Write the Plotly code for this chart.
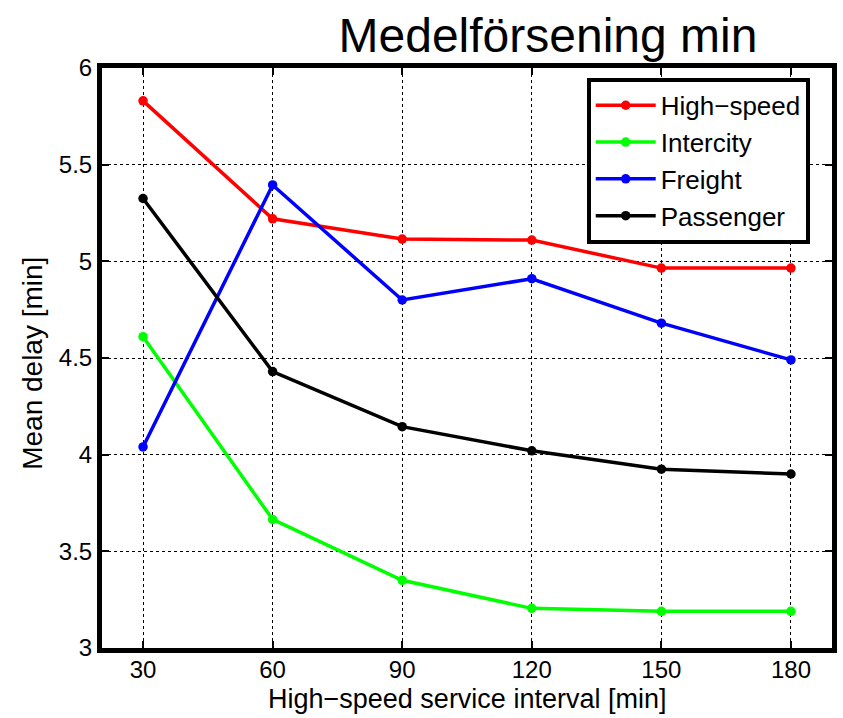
import plotly.graph_objects as go

intervals = [30, 60, 90, 120, 150, 180]
high_speed = [5.83, 5.22, 5.115, 5.11, 4.965, 4.965]
intercity = [4.61, 3.665, 3.35, 3.205, 3.19, 3.19]
freight = [4.04, 5.395, 4.80, 4.91, 4.68, 4.49]
passenger = [5.325, 4.43, 4.145, 4.02, 3.925, 3.90]

series = [
    ("High\u2212speed", high_speed, "#ff0000"),
    ("Intercity", intercity, "#00ff00"),
    ("Freight", freight, "#0000ff"),
    ("Passenger", passenger, "#000000"),
]

fig = go.Figure()
for name, vals, col in series:
    fig.add_trace(go.Scatter(
        x=intervals, y=vals, name=name, mode="lines+markers",
        line=dict(color=col, width=3.5),
        marker=dict(color=col, size=9.5),
    ))

font = "Liberation Sans, Arial, Helvetica, sans-serif"
axis_common = dict(
    showline=True, linecolor="black", linewidth=5, mirror="ticks",
    ticks="inside", ticklen=7, tickwidth=2, tickcolor="black",
    showgrid=True, gridcolor="black", gridwidth=1, griddash="dot",
    zeroline=False, tickfont=dict(size=24, color="black", family=font),
)

fig.update_layout(
    width=843, height=718,
    margin=dict(l=102, r=6, t=68, b=70),
    paper_bgcolor="white", plot_bgcolor="white",
    font=dict(family=font, color="black"),
    title=dict(text="Medelförsening min", x=0.65, xanchor="center",
               y=0.951, yanchor="middle", font=dict(size=48, color="black", family=font)),
    xaxis=dict(range=[20.5, 189.5], tickvals=intervals, ticklabelstandoff=-4, **axis_common),
    yaxis=dict(range=[3, 6], tickvals=[3, 3.5, 4, 4.5, 5, 5.5, 6],
               ticktext=["3", "3.5", "4", "4.5", "5", "5.5", "6"], **axis_common),
    legend=dict(x=0.664, y=0.983, xanchor="left", yanchor="top",
                bgcolor="white", bordercolor="black", borderwidth=4,
                font=dict(size=26, color="black", family=font),
                itemwidth=60, tracegroupgap=0),
    showlegend=True,
    annotations=[
        dict(text="High\u2212speed service interval [min]", xref="paper", yref="paper",
             x=0.5, y=-0.088, xanchor="center", yanchor="middle", showarrow=False,
             font=dict(size=27, color="black", family=font)),
        dict(text="Mean delay [min]", xref="paper", yref="paper",
             x=-0.0945, y=0.49, xanchor="center", yanchor="middle", showarrow=False,
             textangle=-90, font=dict(size=28, color="black", family=font)),
    ],
)

fig.write_html("out.html")
